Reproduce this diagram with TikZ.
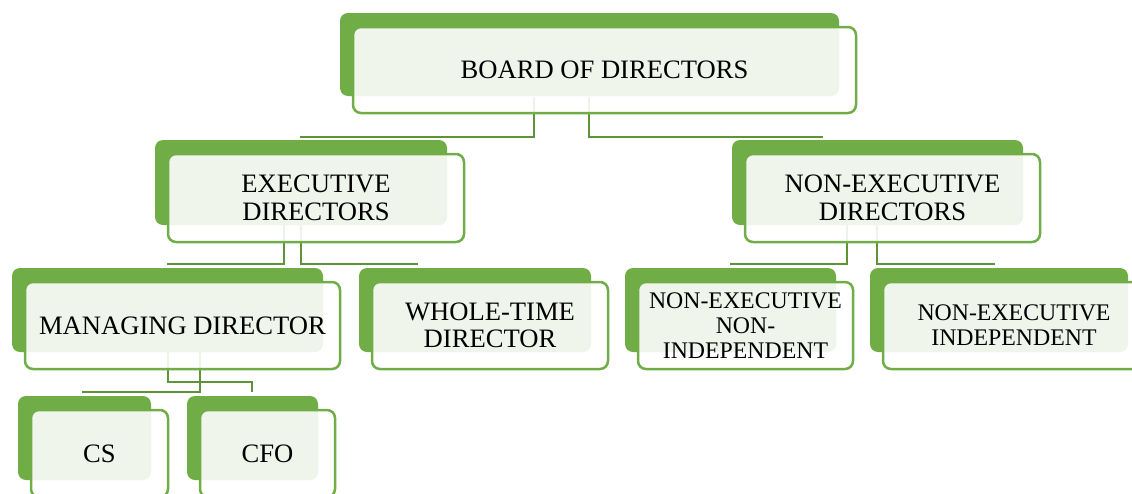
\documentclass[tikz,border=0pt]{standalone}
\usepackage{fontspec}
\setmainfont{Liberation Serif}
\usetikzlibrary{calc}
\pgfdeclarelayer{back}
\pgfsetlayers{back,main}
\definecolor{grn}{RGB}{112,173,71}
\definecolor{conncol}{RGB}{92,148,55}
\newcommand\bigf{\fontsize{26.6}{27.4}\selectfont}
\newcommand\smallf{\fontsize{23.8}{24.8}\selectfont}
\newcommand\backof[1]{%
  \begin{pgfonlayer}{back}
    \fill[grn, rounded corners=8pt] ($(#1.north west)+(-13,-14)$) rectangle ($(#1.south east)+(-17,-17)$);
  \end{pgfonlayer}}
\tikzset{
  box/.style={draw=grn, line width=2.5pt, rounded corners=8pt, fill=white,
    fill opacity=0.89, text opacity=1, align=center, inner sep=0pt, outer sep=0pt,
    minimum height=87pt, font=\bigf, text=black},
  smallbox/.style={box, font=\smallf},
  conn/.style={draw=conncol, line width=2.7pt}
}
\begin{document}
\begin{tikzpicture}[x=1pt,y=-1pt]
\useasboundingbox (0,0) rectangle (1132,493);
% front boxes (main layer)
\node[box, minimum width=503pt, minimum height=86pt] (board) at (604.5,70) {BOARD OF DIRECTORS};
\node[box, minimum width=296pt, minimum height=88pt] (exec) at (316,198) {EXECUTIVE\\DIRECTORS};
\node[box, minimum width=295pt, minimum height=88pt] (nonexec) at (892.5,198) {NON-EXECUTIVE\\DIRECTORS};
\node[box, minimum width=315pt] (md) at (182.5,325.5) {MANAGING DIRECTOR};
\node[box, minimum width=236pt] (wt) at (490,325.5) {WHOLE-TIME\\DIRECTOR};
\node[smallbox, minimum width=215pt] (neni) at (745.5,325.5) {NON-EXECUTIVE\\NON-\\INDEPENDENT};
\node[smallbox, minimum width=262pt] (nei) at (1014,325.5) {NON-EXECUTIVE\\INDEPENDENT};
\node[box, minimum width=137pt] (cs) at (99.5,453.5) {CS};
\node[box, minimum width=135pt] (cfo) at (267.5,453.5) {CFO};
% back boxes
\backof{board}\backof{exec}\backof{nonexec}\backof{md}\backof{wt}\backof{neni}\backof{nei}\backof{cs}\backof{cfo}
% connectors
\coordinate (b1) at (534,97);  \coordinate (b1e) at (300,137);
\coordinate (b2) at (589,97);  \coordinate (b2e) at (823,137);
\coordinate (e1) at (284,225); \coordinate (e1e) at (167,264);
\coordinate (e2) at (301,225); \coordinate (e2e) at (418,264);
\coordinate (n1) at (847,225); \coordinate (n1e) at (730,264);
\coordinate (n2) at (877,225); \coordinate (n2e) at (995,264);
\coordinate (m1) at (200,352); \coordinate (m1e) at (82,392);
\coordinate (m2) at (168,352); \coordinate (m2c) at (252,382); \coordinate (m2e) at (252,392);
\begin{pgfonlayer}{back}
\draw[conn] (b1) |- (b1e);
\draw[conn] (b2) |- (b2e);
\draw[conn] (e1) |- (e1e);
\draw[conn] (e2) |- (e2e);
\draw[conn] (n1) |- (n1e);
\draw[conn] (n2) |- (n2e);
\draw[conn] (m1) |- (m1e);
\draw[conn] (m2) |- (m2c) -- (m2e);
\end{pgfonlayer}
\end{tikzpicture}
\end{document}
